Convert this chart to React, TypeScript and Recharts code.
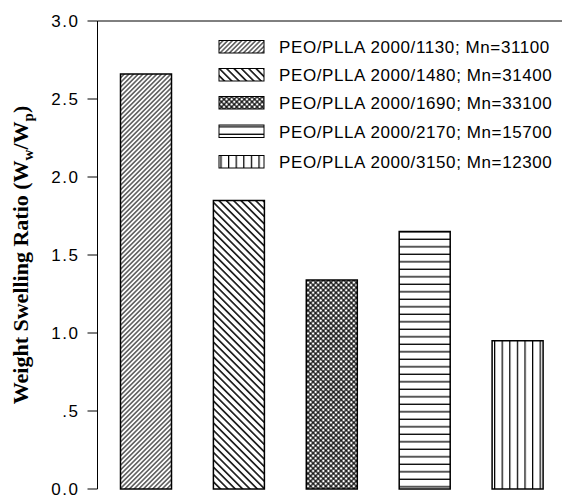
import React from 'react';
import { BarChart, Bar, XAxis, YAxis, Cell, ReferenceLine } from 'recharts';

// Copolymer samples (PEO/PLLA block lengths and number-average molecular weight)
const samples = [
  'PEO/PLLA 2000/1130; Mn=31100',
  'PEO/PLLA 2000/1480; Mn=31400',
  'PEO/PLLA 2000/1690; Mn=33100',
  'PEO/PLLA 2000/2170; Mn=15700',
  'PEO/PLLA 2000/3150; Mn=12300',
];

// Weight swelling ratio Ww/Wp for each sample
const swellingRatio = [2.66, 1.85, 1.34, 1.65, 0.95];

// Y axis ticks and their printed labels
const yTicks = [0, 0.5, 1, 1.5, 2, 2.5, 3];
const yTickLabels = ['0.0', '.5', '1.0', '1.5', '2.0', '2.5', '3.0'];

// Hatch pattern id used by each sample's bar and legend swatch
const hatchIds = ['hatchFwd', 'hatchBack', 'hatchCross', 'hatchHoriz', 'hatchVert'];

const data = samples.map((name, i) => ({ name, ratio: swellingRatio[i] }));

const SANS = '"Liberation Sans", Arial, Helvetica, sans-serif';
const SERIF = '"Liberation Serif", "Times New Roman", Times, serif';

const HatchDefs = () => (
  <defs>
    <pattern id="hatchFwd" patternUnits="userSpaceOnUse" width="3.3" height="3.3" patternTransform="rotate(45)">
      <rect width="3.3" height="3.3" fill="#fff" />
      <line x1="1.65" y1="0" x2="1.65" y2="3.3" stroke="#000" strokeWidth="1" />
    </pattern>
    <pattern id="hatchBack" patternUnits="userSpaceOnUse" width="5.2" height="5.2" patternTransform="rotate(-45)">
      <rect width="5.2" height="5.2" fill="#fff" />
      <line x1="2.6" y1="0" x2="2.6" y2="5.2" stroke="#000" strokeWidth="1.5" />
    </pattern>
    <pattern id="hatchCross" patternUnits="userSpaceOnUse" width="3.6" height="3.6" patternTransform="rotate(45)">
      <rect width="3.6" height="3.6" fill="#fff" />
      <line x1="1.8" y1="0" x2="1.8" y2="3.6" stroke="#000" strokeWidth="1.2" />
      <line x1="0" y1="1.8" x2="3.6" y2="1.8" stroke="#000" strokeWidth="1.2" />
    </pattern>
    <pattern id="hatchHoriz" patternUnits="userSpaceOnUse" width="8" height="7.5">
      <rect width="8" height="7.5" fill="#fff" />
      <line x1="0" y1="6.8" x2="8" y2="6.8" stroke="#000" strokeWidth="1.3" />
    </pattern>
    <pattern id="hatchVert" patternUnits="userSpaceOnUse" width="7.6" height="8">
      <rect width="7.6" height="8" fill="#fff" />
      <line x1="0.6" y1="0" x2="0.6" y2="8" stroke="#000" strokeWidth="1.3" />
    </pattern>
  </defs>
);

const YTitle = (props: any) => {
  const vb = props.viewBox || { x: 0, y: 0, width: 0, height: 0 };
  const cx = 28;
  const cy = vb.y + vb.height / 2;
  return (
    <text
      x={cx}
      y={cy}
      transform={`rotate(-90, ${cx}, ${cy})`}
      textAnchor="middle"
      fontFamily={SERIF}
      fontWeight="bold"
      fontSize={22}
      fill="#000"
    >
      <tspan>Weight Swelling Ratio (W</tspan>
      <tspan fontSize={15} dy={5}>w</tspan>
      <tspan dy={-5}>/W</tspan>
      <tspan fontSize={15} dy={5}>p</tspan>
      <tspan dy={-5}>)</tspan>
    </text>
  );
};

const legendRowY = [47, 75, 103, 131.5, 162];

const HatchLegend = () => (
  <svg
    width={562}
    height={200}
    style={{ position: 'absolute', left: 0, top: 0, pointerEvents: 'none' }}
  >
    {samples.map((s, i) => (
      <g key={s}>
        <rect
          x={219}
          y={legendRowY[i] - 6.5}
          width={45}
          height={12.5}
          fill={`url(#${hatchIds[i]})`}
          stroke="#000"
          strokeWidth={1}
        />
        <text
          x={279}
          y={legendRowY[i] + 6}
          fontFamily={SANS}
          fontSize={17}
          letterSpacing={0.6}
          fill="#000"
        >
          {s}
        </text>
      </g>
    ))}
  </svg>
);

export default function App() {
  return (
    <div
      style={{
        position: 'absolute',
        left: 0,
        top: 0,
        width: 562,
        height: 495,
        overflow: 'hidden',
        background: '#fff',
      }}
    >
      <BarChart
        width={564}
        height={495}
        data={data}
        margin={{ top: 21, right: 0, bottom: 6, left: 0 }}
      >
        <HatchDefs />
        <XAxis
          dataKey="name"
          height={0}
          tick={false}
          tickLine={false}
          axisLine={{ stroke: '#000', strokeWidth: 1 }}
          padding={{ left: 2, right: 0 }}
        />
        <YAxis
          width={97.5}
          domain={[0, 3]}
          ticks={yTicks}
          interval={0}
          tickFormatter={(v: number) => yTickLabels[yTicks.indexOf(v)]}
          tickSize={10}
          tickMargin={8}
          tick={{ fill: '#000', fontSize: 17, fontFamily: SANS, letterSpacing: 1.5 }}
          tickLine={{ stroke: '#000', strokeWidth: 1 }}
          axisLine={{ stroke: '#000', strokeWidth: 1 }}
          allowDecimals
          label={<YTitle />}
        />
        <ReferenceLine y={3} stroke="#000" strokeWidth={1} />
        <Bar dataKey="ratio" barSize={51} stroke="#000" strokeWidth={1.5} isAnimationActive={false}>
          {data.map((d, i) => (
            <Cell key={d.name} fill={`url(#${hatchIds[i]})`} />
          ))}
        </Bar>
      </BarChart>
      <HatchLegend />
    </div>
  );
}
